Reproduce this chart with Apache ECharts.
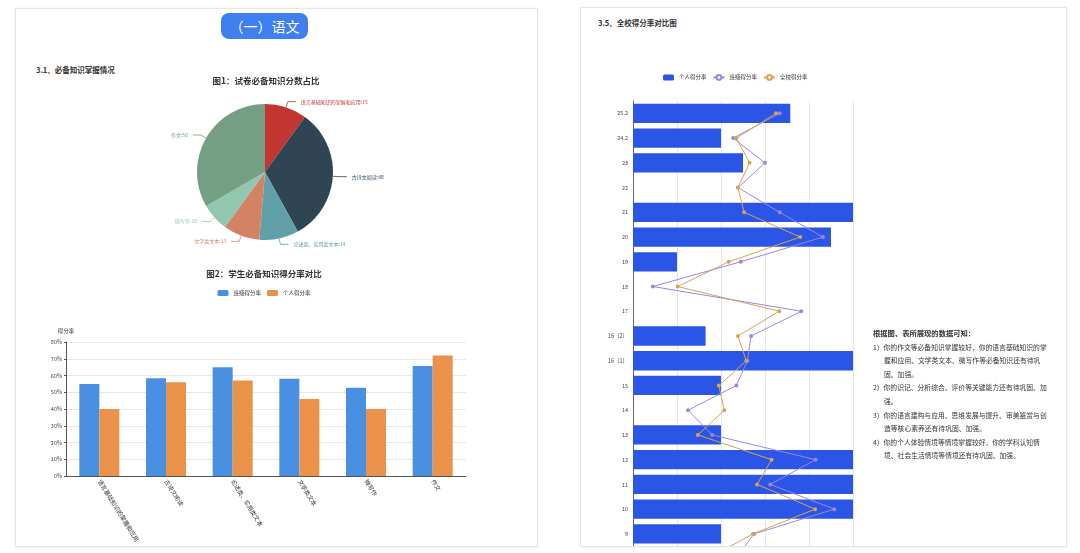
<!DOCTYPE html>
<html>
<head>
    <meta charset="utf-8">
    <title>语文 必备知识</title>
    <script src="https://cdn.jsdelivr.net/npm/echarts@6/dist/echarts.min.js"></script>
    <style>
        body { margin: 0; background: #fff; font-family: "Noto Sans CJK SC", sans-serif; color: #333; }
        .page { position: absolute; background: #fff; border: 1px solid #e4e4e4; box-shadow: 0 0 3px rgba(0,0,0,0.08); overflow: hidden; }
        .btn { position: absolute; left: 205px; top: 4px; width: 87px; height: 26px; line-height: 26px; border-radius: 8px;
               background: #3f7ff0; color: #fff; font-size: 14px; text-align: center; }
        .h3 { position: absolute; font-size: 7.5px; font-weight: bold; white-space: nowrap; }
        .notes { position: absolute; left: 292px; top: 319px; font-size: 6.8px; line-height: 13.6px; white-space: nowrap; color: #333; }
        .notes .item { padding-left: 11px; text-indent: -11px; }
        .notes .t { font-weight: bold; font-size: 7.3px; }
    </style>
    <script type="text/javascript">
    // 图1 试卷必备知识分数占比
    var pieNames = ['语言基础知识的掌握和应用', '古诗文阅读', '论述类、实用类文本', '文学类文本', '微写作', '作文'];
    var pieValues = [15, 48, 14, 13, 10, 50];
    var pieColors = ['#c23531', '#2f4554', '#61a0a8', '#d48265', '#91c7ae', '#749f83'];

    // 图2 学生必备知识得分率对比 (%)
    var barCats = ['语言基础知识的掌握和应用', '古诗文阅读', '论述类、实用类文本', '文学类文本', '微写作', '作文'];
    var classRate = [55, 58.3, 65, 58, 52.7, 65.7];
    var personalRate = [40, 56, 57, 46, 40, 72];

    // 3.5 全校得分率对比 (题号从下到上, %)
    var qNames = ['8', '9', '10', '11', '12', '13', '14', '15', '16（1）', '16（2）', '17', '18', '19', '20', '21', '22', '23', '24.2', '25.2'];
    var qPersonal = [0, 40, 100, 100, 100, 40, 0, 40, 100, 33, 0, 0, 20, 90, 100, 0, 50, 40, 71.5];
    var qClass = [46.6, 55, 91.5, 62.4, 83, 36, 25, 47, 52, 53.7, 76.5, 9, 49, 86.3, 66.7, 47.7, 60, 45.5, 66.7];
    var qSchool = [34, 54.5, 82.8, 56.4, 63, 29.5, 41.5, 39, 51.5, 47.7, 66.5, 20.3, 43.5, 76, 50.5, 47.7, 53, 47, 65];

    var FONT = '"Noto Sans CJK SC", sans-serif';

    window.onload = function () {
        // 饼图
        var pieData = [];
        for (var i = 0; i < pieNames.length; i++) {
            pieData.push({
                name: pieNames[i], value: pieValues[i],
                itemStyle: { color: pieColors[i] },
                label: { color: pieColors[i] }
            });
        }
        var pie = echarts.init(document.getElementById('pie'));
        pie.setOption({
            animation: false,
            textStyle: { fontFamily: FONT },
            title: { text: '图1：试卷必备知识分数占比', left: 'center', top: 1, padding: 0,
                     textStyle: { fontSize: 8.5, fontWeight: 'bold', color: '#333', fontFamily: FONT } },
            series: [{
                type: 'pie', radius: 68, center: [149, 96],
                label: { fontSize: 5, formatter: '{b}:{c}', fontFamily: FONT },
                labelLine: { length: 6, length2: 8, lineStyle: { width: 0.8 } },
                data: pieData
            }]
        });

        // 柱状图
        var bar = echarts.init(document.getElementById('bar'));
        bar.setOption({
            animation: false,
            textStyle: { fontFamily: FONT },
            title: { text: '图2：学生必备知识得分率对比', left: 'center', top: 7, padding: 0,
                     textStyle: { fontSize: 8.5, fontWeight: 'bold', color: '#333', fontFamily: FONT } },
            legend: { top: 27, left: 'center', padding: 0, itemWidth: 11, itemHeight: 6, itemGap: 6,
                      textStyle: { fontSize: 5.5, color: '#333' }, data: ['班级得分率', '个人得分率'] },
            grid: { left: 50, right: 46, top: 79, bottom: 71 },
            xAxis: {
                type: 'category', data: barCats,
                axisLine: { lineStyle: { color: '#555' } },
                axisTick: { length: 3 },
                axisLabel: { rotate: -58, interval: 0, fontSize: 6, color: '#333', margin: 4 }
            },
            yAxis: {
                type: 'value', min: 0, max: 80, interval: 10, name: '得分率', nameGap: 8,
                nameTextStyle: { fontSize: 5.5, color: '#333', align: 'center' },
                axisLine: { show: true, lineStyle: { color: '#555' } },
                axisTick: { show: true, length: 2 },
                axisLabel: { formatter: '{value}%', fontSize: 5.5, color: '#444', margin: 4 },
                splitLine: { lineStyle: { color: '#e8e8e8' } }
            },
            series: [
                { name: '班级得分率', type: 'bar', data: classRate, barGap: 0, barCategoryGap: '40%', itemStyle: { color: '#4a90e2' } },
                { name: '个人得分率', type: 'bar', data: personalRate, itemStyle: { color: '#ea914a' } }
            ]
        });

        // 全校得分率对比
        var cmp = echarts.init(document.getElementById('cmp'));
        cmp.setOption({
            animation: false,
            textStyle: { fontFamily: FONT },
            legend: { top: 17, left: 82, padding: 0, itemWidth: 11, itemHeight: 6, itemGap: 6,
                      textStyle: { fontSize: 5.5, color: '#333' },
                      data: ['个人得分率', '班级得分率', '全校得分率'] },
            grid: { left: 52, right: 28, top: 44, bottom: 46 },
            xAxis: {
                type: 'value', min: 0, max: 100, interval: 20,
                axisLabel: { show: false },
                splitLine: { lineStyle: { color: '#e6e6e6' } }
            },
            yAxis: {
                type: 'category', data: qNames,
                axisLine: { lineStyle: { color: '#666' } },
                axisTick: { length: 3 },
                axisLabel: { fontSize: 5.5, color: '#444', margin: 5 }
            },
            series: [
                { name: '个人得分率', type: 'bar', data: qPersonal, barCategoryGap: '22%',
                  itemStyle: { color: '#2b55e6' } },
                { name: '班级得分率', type: 'line', data: qClass, symbol: 'emptyCircle', symbolSize: 2,
                  itemStyle: { color: '#9d86e0' }, lineStyle: { width: 1, color: '#9d86e0' } },
                { name: '全校得分率', type: 'line', data: qSchool, symbol: 'emptyCircle', symbolSize: 2,
                  itemStyle: { color: '#d6a453' }, lineStyle: { width: 1, color: '#d6a453' } }
            ]
        });
    };
    </script>
</head>
<body>
    <div class="page" style="left:15px; top:8px; width:521px; height:537px;">
        <div class="btn">（一）语文</div>
        <div class="h3" style="left:20px; top:55px;">3.1、必备知识掌握情况</div>
        <div id="pie" style="position:absolute; left:100px; top:67px; width:300px; height:185px;"></div>
        <div id="bar" style="position:absolute; left:0px; top:254px; width:496px; height:284px;"></div>
    </div>
    <div class="page" style="left:580px; top:7px; width:485px; height:538px;">
        <div class="h3" style="left:17px; top:9px;">3.5、全校得分率对比图</div>
        <div id="cmp" style="position:absolute; left:0px; top:49px; width:300px; height:560px;"></div>
        <div class="notes">
            <div class="t">根据图、表所展现的数据可知：</div>
            <div class="item">1）你的作文等必备知识掌握较好，你的语言基础知识的掌<br>握和应用、文学类文本、微写作等必备知识还有待巩<br>固、加强。</div>
            <div class="item">2）你的识记、分析综合、评价等关键能力还有待巩固、加<br>强。</div>
            <div class="item">3）你的语言建构与应用、思维发展与提升、审美鉴赏与创<br>造等核心素养还有待巩固、加强。</div>
            <div class="item">4）你的个人体验情境等情境掌握较好，你的学科认知情<br>境、社会生活情境等情境还有待巩固、加强。</div>
        </div>
    </div>
</body>
</html>
